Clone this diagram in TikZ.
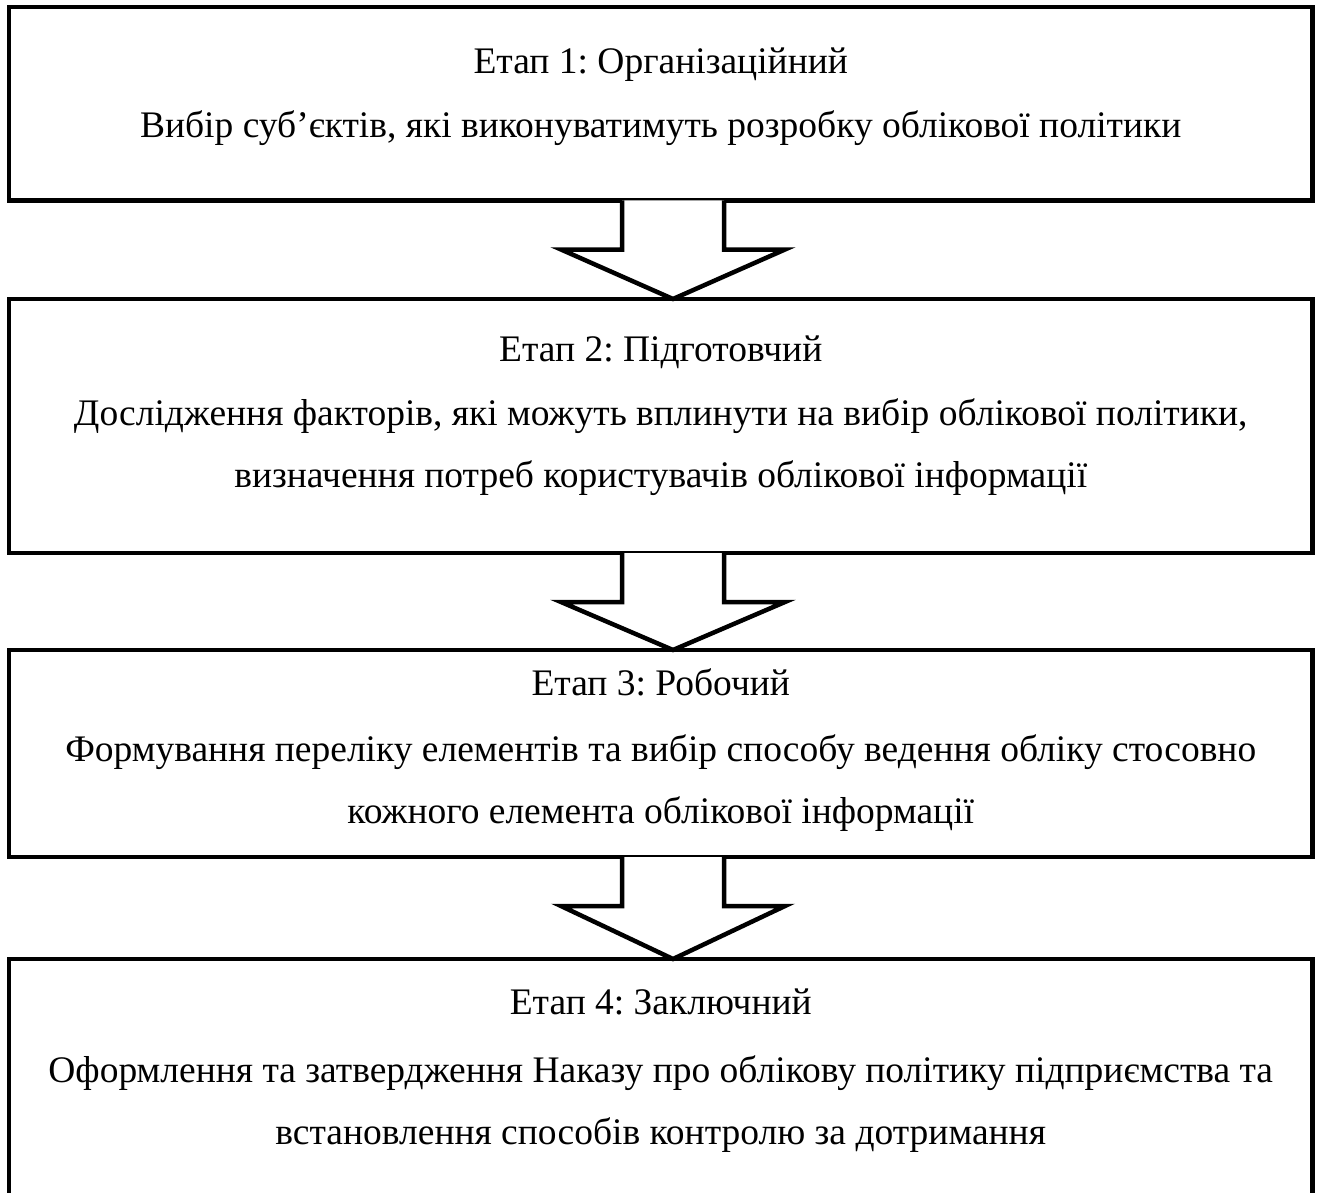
\documentclass[tikz,border=0pt]{standalone}
\usepackage{fontspec}
\setmainfont{Liberation Serif}
\usetikzlibrary{calc}
\frenchspacing
\begin{document}
\begin{tikzpicture}[x=1pt,y=-1pt,
  stagebox/.style={draw=black,line width=4.5pt,rectangle,inner sep=0pt,outer sep=0pt,minimum width=1303.5pt},
  txt/.style={anchor=base,inner sep=0pt,font=\fontsize{37.5}{42}\selectfont},
  arr/.style={draw=black,line width=4.5pt,line join=miter,fill=white}]
\useasboundingbox (0,0) rectangle (1322,1193);
\clip (0,0) rectangle (1322,1193);
\node[stagebox,minimum height=193.5pt] (b1) at (660.75,103.75) {};
\node[stagebox,minimum height=254pt] (b2) at (660.75,426) {};
\node[stagebox,minimum height=207pt] (b3) at (660.75,753.5) {};
\node[stagebox,minimum height=300pt] (b4) at (660.75,1109) {};
\coordinate (ax) at (673,0);
% arrows
\foreach \u/\l [count=\i] in {b1/b2,b2/b3,b3/b4}{
  \draw[arr] ($(\u.south -| ax)+(-51,0)$) -- ++(0,49) -- ++(-61,0) -- (\l.north -| ax)
    -- ($(\u.south -| ax)+(112,49)$) -- ++(-61,0) -- ($(\u.south -| ax)+(51,0)$);
}
% texts
\node[txt] (t1a) at (660.75,74) {Етап 1: Організаційний};
\node[txt] (t1b) at (660.75,138) {Вибір суб’єктів, які виконуватимуть розробку облікової політики};
\node[txt] (t2a) at (660.75,361) {Етап 2: Підготовчий};
\node[txt] (t2b) at (660.75,425) {Дослідження факторів, які можуть вплинути на вибір облікової політики,};
\node[txt] (t2c) at (660.75,487) {визначення потреб користувачів облікової інформації};
\node[txt] (t3a) at (660.75,695) {Етап 3: Робочий};
\node[txt] (t3b) at (660.75,761) {Формування переліку елементів та вибір способу ведення обліку стосовно};
\node[txt] (t3c) at (660.75,823) {кожного елемента облікової інформації};
\node[txt] (t4a) at (660.75,1014) {Етап 4: Заключний};
\node[txt] (t4b) at (660.75,1082) {Оформлення та затвердження Наказу про облікову політику підприємства та};
\node[txt] (t4c) at (660.75,1144) {встановлення способів контролю за дотримання};
\end{tikzpicture}
\end{document}
